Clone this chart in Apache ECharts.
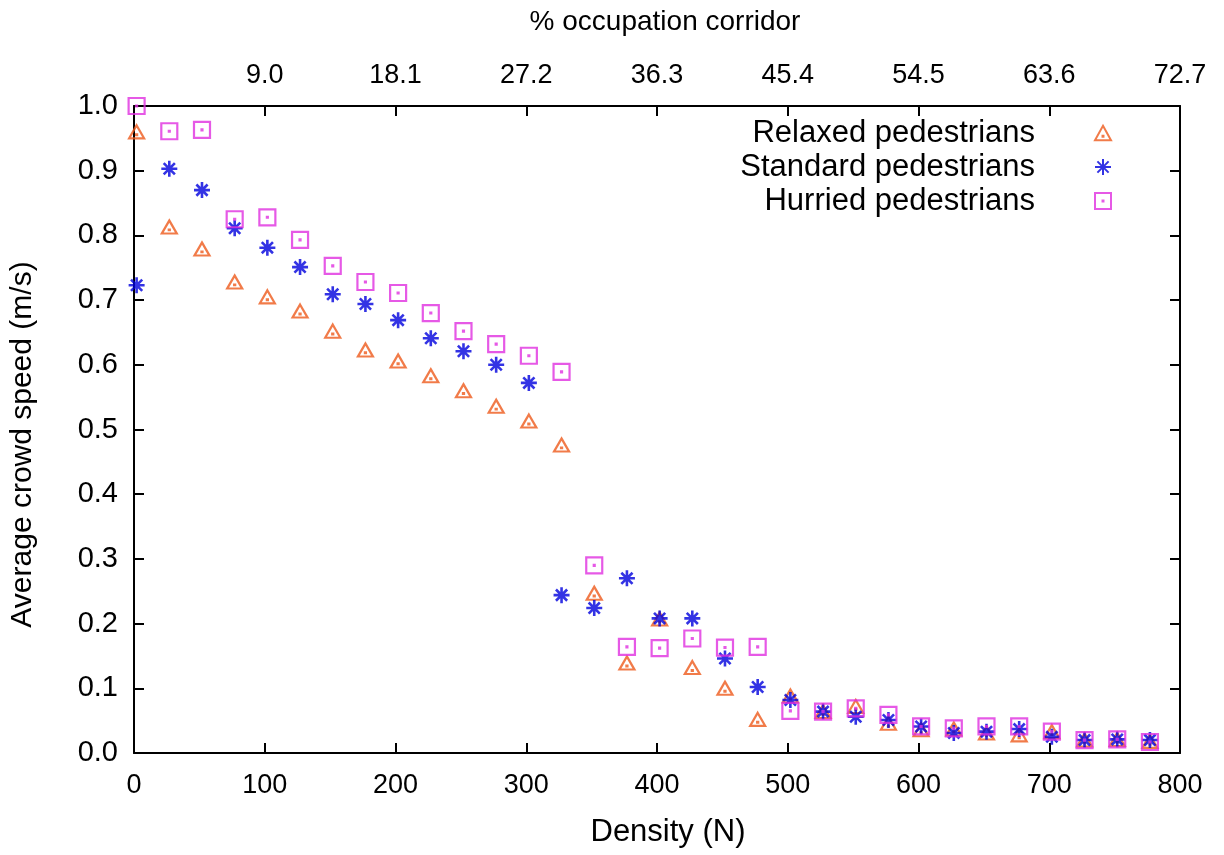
<!DOCTYPE html>
<html>
<head>
<meta charset="utf-8">
<script src="https://cdn.jsdelivr.net/npm/echarts@6/dist/echarts.min.js"></script>
<style>html,body{margin:0;padding:0;background:#fff}#c{width:1224px;height:855px}</style>
</head>
<body>
<div id="c"></div>
<script>
const density = [2,27,52,77,102,127,152,177,202,227,252,277,302,327,352,377,402,427,452,477,502,527,552,577,602,627,652,677,702,727,752,777];
const relaxed = [0.960,0.813,0.779,0.728,0.705,0.683,0.652,0.623,0.606,0.583,0.560,0.536,0.513,0.476,0.247,0.139,0.207,0.132,0.100,0.052,0.088,0.064,0.072,0.046,0.036,0.037,0.031,0.028,0.033,0.020,0.021,0.018];
const standard = [0.723,0.903,0.870,0.811,0.781,0.751,0.709,0.694,0.669,0.641,0.621,0.600,0.572,0.244,0.224,0.270,0.208,0.208,0.146,0.102,0.082,0.064,0.056,0.051,0.041,0.031,0.033,0.037,0.025,0.020,0.021,0.020];
const hurried = [1.000,0.961,0.963,0.825,0.828,0.793,0.753,0.728,0.711,0.680,0.652,0.632,0.614,0.589,0.290,0.164,0.162,0.177,0.163,0.164,0.065,0.064,0.069,0.059,0.041,0.038,0.041,0.041,0.033,0.020,0.021,0.017];
const seriesNames = ['Relaxed pedestrians','Standard pedestrians','Hurried pedestrians'];
const xTicks = ['0','100','200','300','400','500','600','700','800'];
const topTicks = ['','9.0','18.1','27.2','36.3','45.4','54.5','63.6','72.7'];

const FONT = 'Liberation Sans, Arial, Helvetica, sans-serif';
const pairs = arr => density.map((d,i)=>[d,arr[i]]);
const TRI = 'path://M5,0 L10,9 L0,9 Z M4.7,6.2 L5.3,6.2 L5.3,6.8 L4.7,6.8 Z';
const STAR = 'path://M5,0 L5,10 M0,5 L10,5 M1.5,1.5 L8.5,8.5 M1.5,8.5 L8.5,1.5';
const SQR = 'path://M0,0 L10,0 L10,10 L0,10 Z M4.7,4.7 L5.3,4.7 L5.3,5.3 L4.7,5.3 Z';

const chart = echarts.init(document.getElementById('c'), null, {renderer:'canvas'});
const axisLine = {show:true, onZero:false, lineStyle:{color:'#000', width:2}};
const tick = {show:true, inside:true, length:10, lineStyle:{color:'#000', width:2}};
const xl = {color:'#000', fontSize:27, fontFamily:FONT};
const yl = {color:'#000', fontSize:29, fontFamily:FONT};
chart.setOption({
  animation:false,
  backgroundColor:'#fff',
  grid:{left:133, right:44, top:106, bottom:102, containLabel:false},
  legend:{
    orient:'vertical', align:'right', right:107, top:111,
    itemWidth:16, itemHeight:16, itemGap:0,
    textStyle:{color:'#000', fontSize:31, lineHeight:34, fontFamily:FONT, padding:[0,55,0,0]},
    data:seriesNames
  },
  xAxis:[
    {type:'value', position:'bottom', min:0, max:800, interval:100,
     name:'Density (N)', nameLocation:'middle', nameGap:64,
     nameTextStyle:{color:'#000', fontSize:31, fontFamily:FONT, padding:[0,0,0,22]},
     axisLine, axisTick:tick, splitLine:{show:false},
     axisLabel:{...xl, margin:19, formatter:(v)=>xTicks[Math.round(v/100)]}},
    {type:'value', position:'top', min:0, max:800, interval:100,
     name:'% occupation corridor', nameLocation:'middle', nameGap:70,
     nameTextStyle:{color:'#000', fontSize:28, fontFamily:FONT, padding:[0,0,0,16]},
     axisLine, axisTick:tick, splitLine:{show:false},
     axisLabel:{...xl, margin:17, formatter:(v)=>topTicks[Math.round(v/100)]}}
  ],
  yAxis:[
    {type:'value', position:'left', min:0, max:1, interval:0.1,
     name:'Average crowd speed (m/s)', nameLocation:'middle', nameGap:96,
     nameTextStyle:{color:'#000', fontSize:30, fontFamily:FONT, padding:[0,30,0,0]},
     axisLine, axisTick:tick, splitLine:{show:false},
     axisLabel:{...yl, margin:16, formatter:(v)=>v.toFixed(1)}},
    {type:'value', position:'right', min:0, max:1, interval:0.1,
     axisLine, axisTick:tick, splitLine:{show:false}, axisLabel:{show:false}}
  ],
  series:[
    {name:seriesNames[0], type:'scatter', data:pairs(relaxed), symbol:TRI, symbolSize:[15,13],
     itemStyle:{color:'rgba(0,0,0,0)', borderColor:'#ee5a1c', borderWidth:2.2}},
    {name:seriesNames[1], type:'scatter', data:pairs(standard), symbol:STAR, symbolSize:[16,16],
     itemStyle:{color:'rgba(0,0,0,0)', borderColor:'#0000dd', borderWidth:2.6}},
    {name:seriesNames[2], type:'scatter', data:pairs(hurried), symbol:SQR, symbolSize:[16,16],
     itemStyle:{color:'rgba(0,0,0,0)', borderColor:'#e030e0', borderWidth:2.2}}
  ]
});
</script>
</body>
</html>
